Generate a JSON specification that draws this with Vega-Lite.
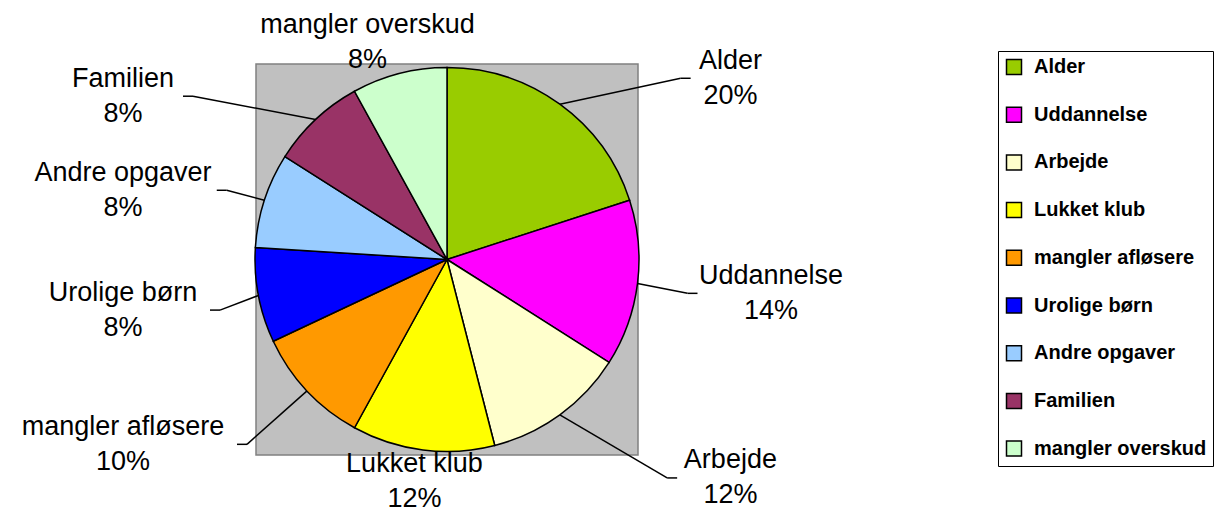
{
  "$schema": "https://vega.github.io/schema/vega-lite/v6.json",
  "width": 382,
  "height": 391,
  "autosize": {"type": "none"},
  "padding": {"left": 256, "top": 64, "right": 582, "bottom": 58},
  "background": "white",
  "view": {"fill": "#C0C0C0", "stroke": "#808080", "strokeWidth": 1.5},
  "config": {
    "view": {"fill": "#C0C0C0", "stroke": "#808080", "strokeWidth": 1.5},
    "font": "Liberation Sans"
  },
  "data": {
    "values": [
      {"cat": "Alder", "share": 0.20, "rank": 1},
      {"cat": "Uddannelse", "share": 0.14, "rank": 2},
      {"cat": "Arbejde", "share": 0.12, "rank": 3},
      {"cat": "Lukket klub", "share": 0.12, "rank": 4},
      {"cat": "mangler afløsere", "share": 0.10, "rank": 5},
      {"cat": "Urolige børn", "share": 0.08, "rank": 6},
      {"cat": "Andre opgaver", "share": 0.08, "rank": 7},
      {"cat": "Familien", "share": 0.08, "rank": 8},
      {"cat": "mangler overskud", "share": 0.08, "rank": 9}
    ]
  },
  "transform": [
    {"joinaggregate": [{"op": "sum", "field": "share", "as": "tot"}]},
    {"stack": "share", "groupby": [], "sort": [{"field": "rank", "order": "ascending"}], "as": ["s0", "s1"]}
  ],
  "layer": [
    {
      "mark": {"type": "arc", "outerRadius": 192, "stroke": "black", "strokeWidth": 1.5},
      "encoding": {
        "theta": {"field": "share", "type": "quantitative", "stack": true},
        "order": {"field": "rank", "type": "quantitative", "sort": "ascending"},
        "color": {
          "field": "cat",
          "type": "nominal",
          "scale": {
            "domain": ["Alder", "Uddannelse", "Arbejde", "Lukket klub", "mangler afløsere", "Urolige børn", "Andre opgaver", "Familien", "mangler overskud"],
            "range": ["#99CC00", "#FF00FF", "#FFFFCC", "#FFFF00", "#FF9900", "#0000FF", "#99CCFF", "#993366", "#CCFFCC"]
          },
          "legend": {
            "orient": "none",
            "legendX": 742,
            "legendY": -13,
            "title": null,
            "symbolType": "square",
            "symbolSize": 225,
            "symbolStrokeColor": "black",
            "symbolStrokeWidth": 1.5,
            "symbolOpacity": 1,
            "labelFont": "Liberation Sans",
            "labelFontWeight": "bold",
            "labelFontSize": 20,
            "labelColor": "black",
            "labelOffset": 10,
            "labelLimit": 400,
            "rowPadding": 25.7,
            "padding": 6,
            "strokeColor": "black",
            "fillColor": "white"
          }
        }
      }
    },
    {
      "transform": [{"filter": "abs(sin(PI*(datum.s0+datum.s1)/datum.tot)) > 0.3"}],
      "mark": {"type": "rule", "color": "black", "strokeWidth": 1.5},
      "encoding": {
        "x": {"value": {"expr": "width/2 + 192*sin(PI*(datum.s0+datum.s1)/datum.tot)"}},
        "y": {"value": {"expr": "height/2 - 192*cos(PI*(datum.s0+datum.s1)/datum.tot)"}},
        "x2": {"value": {"expr": "width/2 + (sin(PI*(datum.s0+datum.s1)/datum.tot) >= 0 ? 1 : -1)*(min(200*abs(sin(PI*(datum.s0+datum.s1)/datum.tot)) + 480*pow(sin(PI*(datum.s0+datum.s1)/datum.tot), 2), 324) - 6.75*length(datum.cat) - 16)"}},
        "y2": {"value": {"expr": "height/2 + (cos(PI*(datum.s0+datum.s1)/datum.tot) < 0 ? min(-270*cos(PI*(datum.s0+datum.s1)/datum.tot), 222) : -224*cos(PI*(datum.s0+datum.s1)/datum.tot))"}}
      }
    },
    {
      "transform": [{"filter": "abs(sin(PI*(datum.s0+datum.s1)/datum.tot)) > 0.3"}],
      "mark": {"type": "rule", "color": "black", "strokeWidth": 1.5},
      "encoding": {
        "x": {"value": {"expr": "width/2 + (sin(PI*(datum.s0+datum.s1)/datum.tot) >= 0 ? 1 : -1)*(min(200*abs(sin(PI*(datum.s0+datum.s1)/datum.tot)) + 480*pow(sin(PI*(datum.s0+datum.s1)/datum.tot), 2), 324) - 6.75*length(datum.cat) - 16)"}},
        "y": {"value": {"expr": "height/2 + (cos(PI*(datum.s0+datum.s1)/datum.tot) < 0 ? min(-270*cos(PI*(datum.s0+datum.s1)/datum.tot), 222) : -224*cos(PI*(datum.s0+datum.s1)/datum.tot))"}},
        "x2": {"value": {"expr": "width/2 + (sin(PI*(datum.s0+datum.s1)/datum.tot) >= 0 ? 1 : -1)*(min(200*abs(sin(PI*(datum.s0+datum.s1)/datum.tot)) + 480*pow(sin(PI*(datum.s0+datum.s1)/datum.tot), 2), 324) - 6.75*length(datum.cat) - 6)"}},
        "y2": {"value": {"expr": "height/2 + (cos(PI*(datum.s0+datum.s1)/datum.tot) < 0 ? min(-270*cos(PI*(datum.s0+datum.s1)/datum.tot), 222) : -224*cos(PI*(datum.s0+datum.s1)/datum.tot))"}}
      }
    },
    {
      "mark": {
        "type": "text",
        "font": "Liberation Sans",
        "fontSize": 27,
        "color": "black",
        "align": "center",
        "baseline": "middle",
        "dy": -17.5,
        "x": {"expr": "width/2 + (sin(PI*(datum.s0+datum.s1)/datum.tot) >= 0 ? 1 : -1)*min(200*abs(sin(PI*(datum.s0+datum.s1)/datum.tot)) + 480*pow(sin(PI*(datum.s0+datum.s1)/datum.tot), 2), 324)"},
        "y": {"expr": "height/2 + (cos(PI*(datum.s0+datum.s1)/datum.tot) < 0 ? min(-270*cos(PI*(datum.s0+datum.s1)/datum.tot), 222) : -224*cos(PI*(datum.s0+datum.s1)/datum.tot))"}
      },
      "encoding": {"text": {"field": "cat", "type": "nominal"}}
    },
    {
      "mark": {
        "type": "text",
        "font": "Liberation Sans",
        "fontSize": 27,
        "color": "black",
        "align": "center",
        "baseline": "middle",
        "dy": 17.5,
        "x": {"expr": "width/2 + (sin(PI*(datum.s0+datum.s1)/datum.tot) >= 0 ? 1 : -1)*min(200*abs(sin(PI*(datum.s0+datum.s1)/datum.tot)) + 480*pow(sin(PI*(datum.s0+datum.s1)/datum.tot), 2), 324)"},
        "y": {"expr": "height/2 + (cos(PI*(datum.s0+datum.s1)/datum.tot) < 0 ? min(-270*cos(PI*(datum.s0+datum.s1)/datum.tot), 222) : -224*cos(PI*(datum.s0+datum.s1)/datum.tot))"}
      },
      "encoding": {"text": {"field": "share", "type": "quantitative", "format": ".0%"}}
    }
  ]
}
